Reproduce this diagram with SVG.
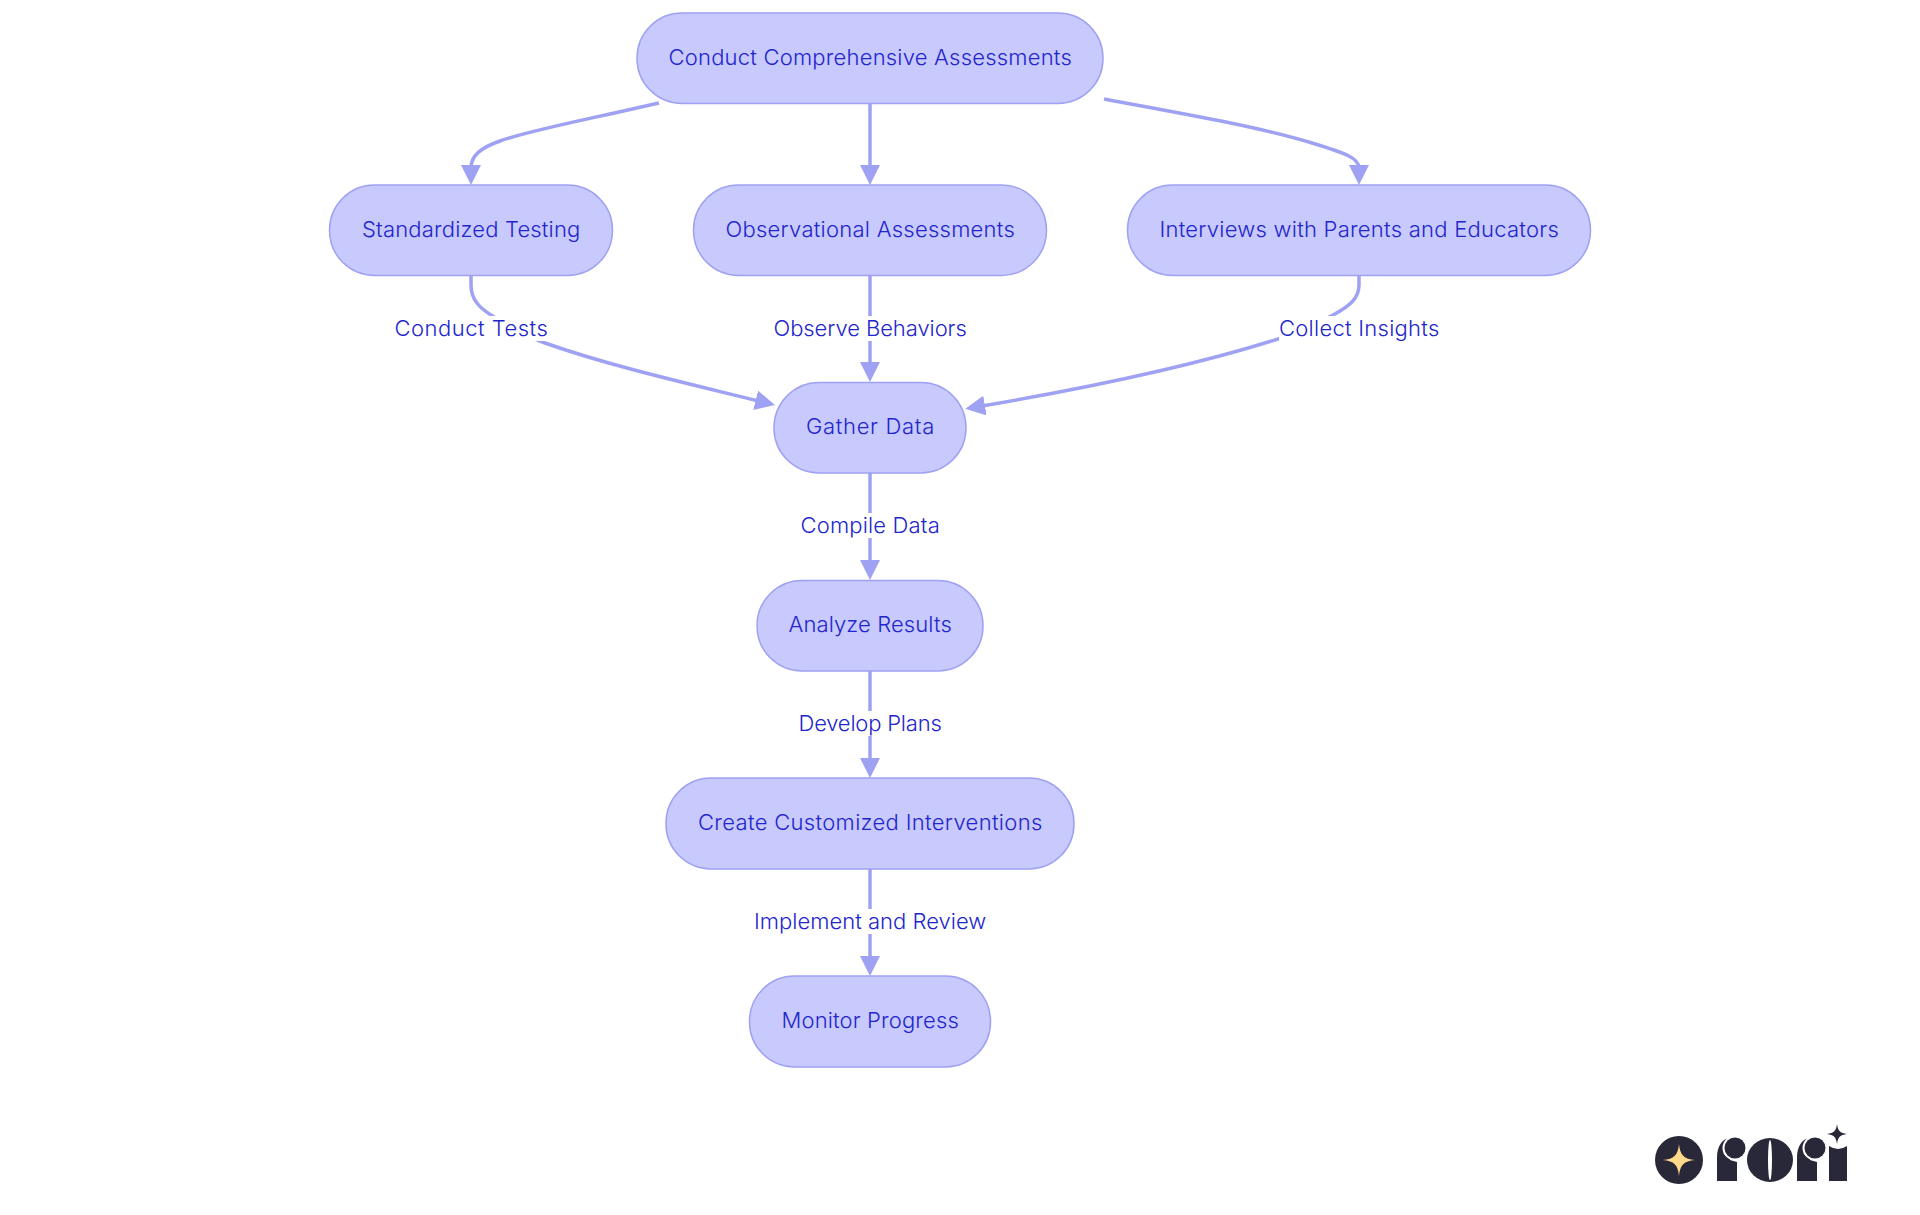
<svg xmlns="http://www.w3.org/2000/svg" width="1920" height="1215" viewBox="0 0 1920 1215">
<style>
.n{fill:#C8C9FD;stroke:#9FA1F3;stroke-width:1.5}
.e{fill:none;stroke:#9FA1F3;stroke-width:3.5}
.t{font-family:Inter,"Noto Sans",sans-serif;font-size:22px;font-weight:300;fill:#2225CC;text-anchor:middle;letter-spacing:-.3px}
.b{fill:#fff}
.d{fill:#282838}
</style>
<defs><marker id="a" markerUnits="userSpaceOnUse" markerWidth="22" markerHeight="22" refX="3" refY="10" orient="auto"><path d="M0,0L20,10L0,20Z" fill="#9FA1F3"/></marker></defs>
<rect width="1920" height="1215" fill="#fff"/>
<g id="connectors">
<path class="e" marker-end="url(#a)" d="M659,103C590,119 530,130 500,141C480,148 471,156 471,168"/>
<path class="e" marker-end="url(#a)" d="M870,103V168"/>
<path class="e" marker-end="url(#a)" d="M1104,99C1180,113 1260,127 1312,143C1345,153 1359,158 1359,168"/>
<path class="e" marker-end="url(#a)" d="M471,275V285C471,300 480,308 491,315C505,325 525,336 545,343C610,366 690,384 758.5,401"/>
<path class="e" marker-end="url(#a)" d="M870,275V365"/>
<path class="e" marker-end="url(#a)" d="M1359,275V285C1359,298 1350,306 1333,315C1320,322 1300,332 1278,339C1190,367 1070,391 982,406"/>
<path class="e" marker-end="url(#a)" d="M870,473V563"/>
<path class="e" marker-end="url(#a)" d="M870,671V761"/>
<path class="e" marker-end="url(#a)" d="M870,869V959"/>
</g>
<g id="edge-labels">
<rect class="b" x="394" y="316" width="153" height="25"/><text class="t" x="471" y="336" textLength="153">Conduct Tests</text>
<rect class="b" x="773" y="316" width="194" height="25"/><text class="t" x="870" y="336" textLength="193">Observe Behaviors</text>
<rect class="b" x="1279" y="316" width="161" height="25"/><text class="t" x="1359" y="336" textLength="160">Collect Insights</text>
<rect class="b" x="800" y="513" width="140" height="25"/><text class="t" x="870" y="533" textLength="139">Compile Data</text>
<rect class="b" x="798" y="711" width="144" height="25"/><text class="t" x="870" y="731" textLength="143">Develop Plans</text>
<rect class="b" x="754" y="909" width="232" height="25"/><text class="t" x="870" y="929" textLength="232">Implement and Review</text>
</g>
<g id="n1"><rect class="n" x="637" y="13" width="466" height="90.500" rx="45"/><text class="t" x="870" y="65" textLength="403">Conduct Comprehensive Assessments</text></g>
<g id="n2"><rect class="n" x="329.500" y="185" width="283" height="90.500" rx="45"/><text class="t" x="471" y="237" textLength="218">Standardized Testing</text></g>
<g id="n3"><rect class="n" x="693.500" y="185" width="353" height="90.500" rx="45"/><text class="t" x="870" y="237" textLength="289">Observational Assessments</text></g>
<g id="n4"><rect class="n" x="1127.500" y="185" width="463" height="90.500" rx="45"/><text class="t" x="1359" y="237" textLength="399">Interviews with Parents and Educators</text></g>
<g id="n5"><rect class="n" x="774" y="382.500" width="192" height="90.500" rx="45"/><text class="t" x="870" y="434" textLength="128">Gather Data</text></g>
<g id="n6"><rect class="n" x="757" y="580.500" width="226" height="90.500" rx="45"/><text class="t" x="870" y="632" textLength="163">Analyze Results</text></g>
<g id="n7"><rect class="n" x="666" y="778" width="408" height="91" rx="45"/><text class="t" x="870" y="830" textLength="344">Create Customized Interventions</text></g>
<g id="n8"><rect class="n" x="749.500" y="976" width="241" height="91" rx="45"/><text class="t" x="870" y="1028" textLength="177">Monitor Progress</text></g>
<g id="logo">
<circle class="d" cx="1679" cy="1160" r="24"/>
<path fill="#FFD98A" d="M1679,1144C1680,1155 1684,1159 1695,1160C1684,1161 1680,1165 1679,1176C1678,1165 1674,1161 1663,1160C1674,1159 1678,1155 1679,1144Z"/>
<path class="d" d="M1717,1181V1158C1717,1146 1722,1139 1730,1138V1160L1737,1162V1181Z"/>
<circle class="b" cx="1735" cy="1148" r="12.500"/><circle class="d" cx="1735" cy="1148" r="10.500"/>
<ellipse class="d" cx="1770" cy="1160" rx="23" ry="22"/><ellipse class="b" cx="1770" cy="1160" rx="2" ry="20"/>
<path class="d" d="M1797,1181V1158C1797,1146 1802,1139 1810,1138V1160L1817,1162V1181Z"/>
<circle class="b" cx="1815" cy="1148" r="12.500"/><circle class="d" cx="1815" cy="1148" r="10.500"/>
<path class="d" d="M1829,1181V1146Q1838,1152 1847,1146V1181Z"/>
<path class="d" d="M1837,1124C1838,1131 1840,1133 1847,1134C1840,1135 1838,1137 1837,1144C1836,1137 1834,1135 1827,1134C1834,1133 1836,1131 1837,1124Z"/>
</g>
</svg>
